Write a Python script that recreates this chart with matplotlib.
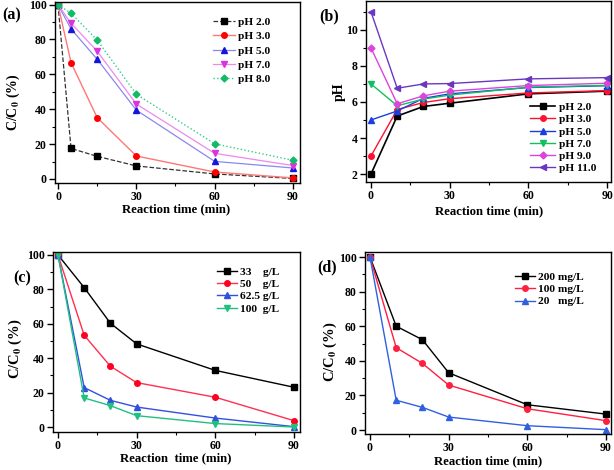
import matplotlib
matplotlib.use('Agg')
import matplotlib.pyplot as plt
from matplotlib.ticker import MultipleLocator

plt.rcParams['font.family'] = ['Liberation Serif', 'DejaVu Serif']
plt.rcParams['font.weight'] = 'bold'
plt.rcParams['mathtext.fontset'] = 'stix'

# (a) effect of initial pH
time_a = [0, 5, 15, 30, 60, 90]
ph2_a = [100, 17.5, 13, 7.5, 2.9, 0.3]
ph3_a = [100, 66.7, 35.2, 13.2, 4.0, 0.6]
ph5_a = [100, 86, 68.7, 39.5, 10.1, 6.3]
ph7_a = [100, 89.3, 73.3, 43, 14.7, 7.7]
ph8_a = [100, 95, 79.7, 48.6, 20.2, 10.7]
labels_a = ['pH 2.0', 'pH 3.0', 'pH 5.0', 'pH 7.0', 'pH 8.0']

# (b) pH change during reaction
time_b = [0, 10, 20, 30, 60, 90]
ph2_b = [2.0, 5.22, 5.75, 5.93, 6.45, 6.6]
ph3_b = [3.0, 5.58, 5.97, 6.18, 6.5, 6.63]
ph5_b = [5.0, 5.5, 6.2, 6.45, 6.8, 6.9]
ph7_b = [7.0, 5.79, 6.16, 6.38, 6.82, 6.92]
ph9_b = [9.0, 5.9, 6.34, 6.6, 6.91, 7.04]
ph11_b = [11.0, 6.76, 7.0, 7.02, 7.28, 7.35]
labels_b = ['pH 2.0', 'pH 3.0', 'pH 5.0', 'pH 7.0', 'pH 9.0', 'pH 11.0']

# (c) effect of dosage
time_c = [0, 10, 20, 30, 60, 90]
dose33 = [100, 81, 60.3, 48.3, 32.9, 23.1]
dose50 = [100, 53.3, 35.3, 25.8, 17.3, 3.7]
dose62 = [100, 22.9, 15.5, 11.6, 5.2, 0.2]
dose100 = [100, 16.9, 12.4, 6.6, 2.0, 0]
labels_c = ['33    g/L', '50    g/L', '62.5 g/L', '100  g/L']

# (d) effect of initial concentration
time_d = [0, 10, 20, 30, 60, 90]
conc200 = [100, 60, 52.2, 33.1, 14.6, 9.2]
conc100 = [100, 47.6, 38.5, 26, 12.3, 5.4]
conc20 = [100, 17.2, 13.1, 7.5, 2.5, 0.2]
labels_d = ['200 mg/L', '100 mg/L', '20   mg/L']

W, H = 614, 470
fig = plt.figure(figsize=(6.14, 4.70), dpi=100)


def box(l, t, r, b):
    return [l / W, (H - b) / H, (r - l) / W, (b - t) / H]


def ftext(x, y, s, **kw):
    fig.text(x / W, (H - y) / H, s, ha='center', va='center', fontweight='bold', **kw)


def style(ax, ymaj, ymin):
    ax.xaxis.set_major_locator(MultipleLocator(30))
    ax.xaxis.set_minor_locator(MultipleLocator(15))
    ax.yaxis.set_major_locator(MultipleLocator(ymaj))
    ax.yaxis.set_minor_locator(MultipleLocator(ymin))
    ax.tick_params(which='major', direction='out', length=4, width=1, labelsize=8.5, pad=2)
    ax.tick_params(which='minor', direction='out', length=2, width=0.8)
    for s in ax.spines.values():
        s.set_linewidth(1)
    for lab in ax.get_xticklabels() + ax.get_yticklabels():
        lab.set_fontweight('bold')


def leg(ax, x, y, hl, ls):
    ax.legend(loc='upper left', bbox_to_anchor=(x, y), frameon=False,
              handlelength=hl, labelspacing=ls, handletextpad=0.3, borderaxespad=0,
              prop={'weight': 'bold', 'size': 8.2})


ylab = r'C/C$_\mathbf{0}$ (%)'

# ---- (a)
ax = fig.add_axes(box(55, 2, 300, 183))
ax.plot(time_a, ph2_a, '--', color='#333333', lw=0.9, marker='s', ms=4, mfc='black', mec='black', label=labels_a[0])
ax.plot(time_a, ph3_a, '-', color='#ff7777', lw=1.0, marker='o', ms=4, mfc='#ff0000', mec='#ff0000', label=labels_a[1])
ax.plot(time_a, ph5_a, '-', color='#8888ee', lw=0.9, marker='^', ms=4.5, mfc='#1515dd', mec='#1515dd', label=labels_a[2])
ax.plot(time_a, ph7_a, '-', color='#ee88ee', lw=0.9, marker='v', ms=4.5, mfc='#dd33dd', mec='#dd33dd', label=labels_a[3])
ax.plot(time_a, ph8_a, ':', color='#33cc88', lw=1.0, marker='D', ms=3.5, mfc='#11bb66', mec='#11bb66', label=labels_a[4])
ax.set_xlim(-1.15, 92.7)
ax.set_ylim(-2.3, 101.5)
style(ax, 20, 10)
leg(ax, 0.627, 0.942, 1.9, 0.38)
ftext(12, 15, '(a)', fontsize=11.5)
ftext(13, 102, ylab, fontsize=10, rotation=90)
ftext(176, 209, 'Reaction time (min)', fontsize=9.2)

# ---- (b)
ax = fig.add_axes(box(366, 1, 611, 182))
ax.plot(time_b, ph2_b, '-', color='black', lw=1.2, marker='s', ms=4, label=labels_b[0])
ax.plot(time_b, ph3_b, '-', color='#ff1030', lw=1.0, marker='o', ms=4, label=labels_b[1])
ax.plot(time_b, ph5_b, '-', color='#1a3ee0', lw=1.0, marker='^', ms=4.5, label=labels_b[2])
ax.plot(time_b, ph7_b, '-', color='#10c060', lw=1.0, marker='v', ms=4.5, label=labels_b[3])
ax.plot(time_b, ph9_b, '-', color='#dd44dd', lw=1.0, marker='D', ms=3.5, label=labels_b[4])
ax.plot(time_b, ph11_b, '-', color='#6a38c0', lw=1.0, marker='<', ms=4.5, label=labels_b[5])
ax.set_xlim(-1.9, 91.5)
ax.set_ylim(1.56, 11.6)
style(ax, 2, 1)
leg(ax, 0.651, 0.467, 2.2, 0.2)
ftext(329, 16, '(b)', fontsize=11.5)
ftext(339, 92, 'pH', fontsize=10, rotation=90)
ftext(489, 211, 'Reaction time (min)', fontsize=9.2)

# ---- (c)
ax = fig.add_axes(box(53, 252, 300, 432))
ax.plot(time_c, dose33, '-', color='black', lw=1.0, marker='s', ms=4, label=labels_c[0])
ax.plot(time_c, dose50, '-', color='#ff3050', lw=1.0, marker='o', ms=4, mfc='#ff0020', mec='#ff0020', label=labels_c[1])
ax.plot(time_c, dose62, '-', color='#3050e0', lw=1.0, marker='^', ms=4.5, label=labels_c[2])
ax.plot(time_c, dose100, '-', color='#20c080', lw=1.0, marker='v', ms=4.5, label=labels_c[3])
ax.set_xlim(-1.9, 92.3)
ax.set_ylim(-2.9, 101.7)
style(ax, 20, 10)
leg(ax, 0.646, 0.942, 1.75, 0.2)
ftext(22, 278, '(c)', fontsize=11.5)
ftext(15, 349, ylab, fontsize=10.5, rotation=90)
ftext(176, 458, 'Reaction  time (min)', fontsize=9.2)

# ---- (d)
ax = fig.add_axes(box(365, 252, 611, 434))
ax.plot(time_d, conc200, '-', color='black', lw=1.0, marker='s', ms=4, label=labels_d[0])
ax.plot(time_d, conc100, '-', color='#ff2040', lw=1.0, marker='o', ms=4, label=labels_d[1])
ax.plot(time_d, conc20, '-', color='#3060e0', lw=1.0, marker='^', ms=4.5, label=labels_d[2])
ax.set_xlim(-1.9, 91.9)
ax.set_ylim(-2.3, 102.9)
style(ax, 20, 10)
leg(ax, 0.591, 0.915, 1.75, 0.2)
ftext(327, 267, '(d)', fontsize=11.5)
ftext(330, 352, ylab, fontsize=10.5, rotation=90)
ftext(488, 461, 'Reaction time (min)', fontsize=9.2)

fig.savefig('out.png', dpi=100)
